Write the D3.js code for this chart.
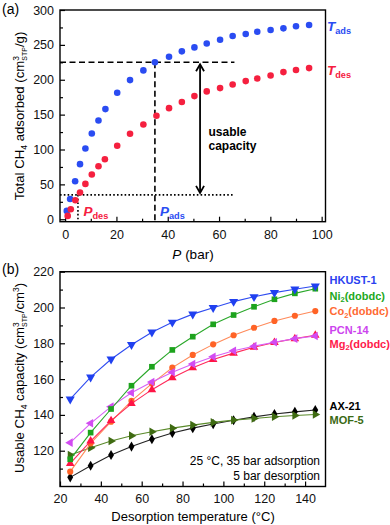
<!DOCTYPE html>
<html><head><meta charset="utf-8">
<script src="https://cdn.jsdelivr.net/npm/d3@7"></script>
<style>
body{margin:0;background:#fff;}
svg{font-family:"Liberation Sans",Arial,sans-serif;}
</style></head>
<body><svg id="c" width="390" height="525"></svg>
<script>
// ---------- Panel (a) data ----------
const adsPressure = [0.65,1.95,3.9,5.8,7.9,10.4,13,15.7,20.3,25.3,30.5,35,40.5,45.5,50.4,55.2,60.4,65.3,70.4,74.9,80.1,85.1,90,95.1];
const adsUptake   = [12,29,54.5,79,101.4,123,141.6,157.9,181.3,199.5,213.4,225,233,240.7,246.4,252,257.4,262.7,265.6,268.9,271.3,273.7,276.6,278.5];
const desPressure = [1.0,2.2,4.0,5.8,7.9,10.4,13,15.5,20.3,25.3,30.5,35.6,40.5,45.5,50.4,55.2,60.4,65.3,70.4,74.9,80.1,85.1,90,95.1];
const desUptake   = [4.8,14.4,27.3,38.3,50.7,64.1,76.1,86.1,105.3,122.5,135.9,148.3,159.3,168,176.6,183.3,188,193.3,198.1,201.9,206.2,211,213.9,216.7];
const aXTicks = [0,20,40,60,80,100];
const aYTicks = [0,50,100,150,200,250,300];
const pAds = 35, pDes = 5, qAds = 225, qDes = 35, arrowP = 52.6, guideEnd = 66;

// ---------- Panel (b) data ----------
const temps = [25,35,45,55,65,75,85,95,105,115,125,135,145];
const hkust = [148.8,161.1,171.1,179.2,186.2,191.7,196.3,199.9,203.3,206,208.3,210.2,212];
const ni2   = [115.2,130.1,143.3,156.3,166.9,176.3,183.7,190.6,195.8,200.4,204.6,207.9,210.5];
const co2   = [108.3,124.1,136.2,147.8,157.5,166.4,173.5,179.4,184.5,188.7,192.5,195.4,198.0];
const pcn14 = [124.5,135.3,144.6,152.4,158.4,163.8,168.4,172.5,175.8,178.4,180.6,182.6,184.1];
const mg2   = [112.9,125.4,136.8,146.3,154.1,160.8,166.4,171,174.5,177.8,180.4,182.6,184.5];
const ax21  = [105.1,111.6,117.6,122.3,126.4,129.9,132.6,134.9,137,138.9,140.5,141.7,142.7];
const mof5  = [117.6,121.7,125.4,128.4,130.6,132.6,134.3,135.8,137.1,138,139,139.7,140.2];
const bXTicks = [20,40,60,80,100,120,140];
const bYTicks = [120,140,160,180,200,220];
const seriesNames = ["AX-21","MOF-5","Co2(dobdc)","Mg2(dobdc)","PCN-14","Ni2(dobdc)","HKUST-1"];

const svg = d3.select("#c");
const L = 60, R = 325.5;

// ---------- helpers ----------
function frame(g, x0, y0, x1, y1){
  g.append("rect").attr("x",x0).attr("y",y0).attr("width",x1-x0).attr("height",y1-y0)
   .attr("fill","none").attr("stroke","#000").attr("stroke-width",1.4);
}
function axes(x, y, xt, yt, xMinor, yMinor, y0){
  svg.append("g").attr("transform",`translate(0,${y0})`)
    .call(d3.axisBottom(x).tickValues(xt).tickSize(-5).tickPadding(8).tickFormat(d3.format("d")));
  svg.append("g").attr("transform",`translate(0,${y0})`)
    .call(d3.axisBottom(x).tickValues(xMinor).tickSize(-3).tickFormat(""));
  svg.append("g").attr("transform",`translate(${L},0)`)
    .call(d3.axisLeft(y).tickValues(yt).tickSize(-5).tickPadding(6).tickFormat(d3.format("d")));
  svg.append("g").attr("transform",`translate(${L},0)`)
    .call(d3.axisLeft(y).tickValues(yMinor).tickSize(-3).tickFormat(""));
  svg.selectAll(".domain").remove();
  svg.selectAll(".tick line").attr("stroke","#000").attr("stroke-width",1.2);
  svg.selectAll(".tick text").attr("font-size",12.5).attr("fill","#111")
     .attr("font-family","Liberation Sans, Arial, sans-serif");
}

// ================= Panel (a) =================
const xa = d3.scaleLinear().domain([-2,101.5]).range([L,R]);
const ya = d3.scaleLinear().domain([-3.5,300]).range([221.7,10]);
axes(xa, ya, aXTicks, aYTicks, d3.range(10,100,20), d3.range(25,300,50), 221.7);

const blueA = "#2a4cf2", redA = "#f5203f";
const guides = svg.append("g").attr("stroke","#000").attr("stroke-width",1.6).attr("fill","none");
guides.append("line").attr("x1",L).attr("x2",xa(guideEnd)).attr("y1",ya(qAds)).attr("y2",ya(qAds)).attr("stroke-dasharray","6,3.5");
guides.append("line").attr("x1",xa(pAds)).attr("x2",xa(pAds)).attr("y1",ya(qAds)).attr("y2",221.7).attr("stroke-dasharray","6,3.5");
guides.append("line").attr("x1",L).attr("x2",xa(guideEnd)).attr("y1",ya(qDes)).attr("y2",ya(qDes)).attr("stroke-dasharray","1.6,2.2");
guides.append("line").attr("x1",xa(pDes)).attr("x2",xa(pDes)).attr("y1",ya(qDes)).attr("y2",221.7).attr("stroke-dasharray","1.6,2.2");
const ax = xa(arrowP), ayT = ya(qAds)+2, ayB = ya(qDes)-2;
guides.append("line").attr("x1",ax).attr("x2",ax).attr("y1",ayT).attr("y2",ayB).attr("stroke-width",1.8);
guides.append("path").attr("d",`M${ax-4},${ayT+7}L${ax},${ayT}L${ax+4},${ayT+7}`).attr("stroke-width",1.8);
guides.append("path").attr("d",`M${ax-4},${ayB-7}L${ax},${ayB}L${ax+4},${ayB-7}`).attr("stroke-width",1.8);

svg.append("g").selectAll("circle").data(adsPressure).join("circle")
  .attr("cx",(d)=>xa(d)).attr("cy",(d,i)=>ya(adsUptake[i])).attr("r",3.3).attr("fill",blueA);
svg.append("g").selectAll("circle").data(desPressure).join("circle")
  .attr("cx",(d)=>xa(d)).attr("cy",(d,i)=>ya(desUptake[i])).attr("r",3.3).attr("fill",redA);

frame(svg, L, 10, R, 221.7);

function subLabel(x, y, main, sub, color, size){
  const t = svg.append("text").attr("x",x).attr("y",y).attr("fill",color).attr("font-weight","bold").attr("font-size",size);
  t.append("tspan").attr("font-style","italic").text(main);
  t.append("tspan").attr("font-size",size*0.68).attr("dy",3).text(sub);
  return t;
}
subLabel(327, 31, "T", "ads", blueA, 13.5);
subLabel(327, 75, "T", "des", redA, 13.5);
subLabel(83.5, 215.5, "P", "des", redA, 13.5);
subLabel(160, 215.5, "P", "ads", blueA, 13.5);
svg.append("text").attr("x",208.5).attr("y",135.5).attr("font-weight","bold").attr("font-size",12).text("usable");
svg.append("text").attr("x",208.5).attr("y",150).attr("font-weight","bold").attr("font-size",12).text("capacity");

svg.append("text").attr("x",2).attr("y",14).attr("font-size",14).text("(a)");
const xta = svg.append("text").attr("x",193).attr("y",259).attr("text-anchor","middle").attr("font-size",13.5);
xta.append("tspan").attr("font-style","italic").text("P");
xta.append("tspan").text(" (bar)");

(function(){
  const t = svg.append("text").attr("transform",`translate(23.5,116) rotate(-90)`)
    .attr("text-anchor","middle").attr("font-size",13.2);
  t.append("tspan").text("Total CH");
  t.append("tspan").attr("font-size",8.5).attr("dy",3).text("4");
  t.append("tspan").attr("dy",-3).text(" adsorbed (cm");
  t.append("tspan").attr("font-size",8.5).attr("dy",-5).text("3");
  t.append("tspan").attr("font-size",7).attr("dx",-4.7).attr("dy",8.5).text("STP");
  t.append("tspan").attr("dy",-3.5).text("/g)");
})();

// ================= Panel (b) =================
const xb = d3.scaleLinear().domain([20,150]).range([L,R]);
const yb = d3.scaleLinear().domain([100,220]).range([486.5,271.7]);
axes(xb, yb, bXTicks, bYTicks, d3.range(30,150,20), d3.range(110,220,20), 486.5);

const seriesValues = [ax21, mof5, co2, mg2, pcn14, ni2, hkust];
const lineColors = ["#222222","#5a8a2a","#ff8a5a","#ff2a5a","#d860f5","#2aa82a","#2f4cf0"];
const markColors = ["#000000","#3f6b12","#ff6326","#ff1446","#d24cf2","#1da31d","#2040f0"];
const markTypes = [d3.symbolDiamond, d3.symbolTriangle, d3.symbolCircle, d3.symbolTriangle, d3.symbolTriangle, d3.symbolSquare, d3.symbolTriangle];
const markRot = [0, 90, 0, 0, -90, 0, 180];
const markSize = [30, 32, 30, 32, 32, 32, 36];

const lineGen = d3.line().x((d,i)=>xb(temps[i])).y(d=>yb(d));
seriesValues.forEach((vals, k)=>{
  const g = svg.append("g");
  g.append("path").datum(vals).attr("d",lineGen).attr("fill","none")
    .attr("stroke",lineColors[k]).attr("stroke-width",1.1);
  g.selectAll("path.m").data(vals).join("path").attr("class","m")
    .attr("transform",(d,i)=>`translate(${xb(temps[i])},${yb(d)}) rotate(${markRot[k]})`)
    .attr("d",d3.symbol().type(markTypes[k]).size(markSize[k])())
    .attr("fill",markColors[k]);
});

frame(svg, L, 271.7, R, 486.5);

const legend = [
  {n:"HKUST-1", y:284, c:"#2a3ff0"},
  {n:"Ni|2|(dobdc)", y:299.5, c:"#22a822"},
  {n:"Co|2|(dobdc)", y:315, c:"#ff6a33"},
  {n:"PCN-14", y:334, c:"#cc44ee"},
  {n:"Mg|2|(dobdc)", y:347.5, c:"#ff1a4a"},
  {n:"AX-21", y:410, c:"#000000"},
  {n:"MOF-5", y:424, c:"#3a6a14"}
];
legend.forEach(l=>{
  const parts = l.n.split("|");
  const t = svg.append("text").attr("x",329.5).attr("y",l.y).attr("fill",l.c)
    .attr("font-weight","bold").attr("font-size",11);
  t.append("tspan").text(parts[0]);
  if(parts.length>1){
    t.append("tspan").attr("font-size",7.5).attr("dy",2.5).text(parts[1]);
    t.append("tspan").attr("dy",-2.5).text(parts[2]);
  }
});

svg.append("text").attr("x",320).attr("y",465).attr("text-anchor","end").attr("font-size",12).text("25 °C, 35 bar adsorption");
svg.append("text").attr("x",320).attr("y",479.5).attr("text-anchor","end").attr("font-size",12).text("5 bar desorption");

svg.append("text").attr("x",2).attr("y",274).attr("font-size",14).text("(b)");
svg.append("text").attr("x",193).attr("y",521).attr("text-anchor","middle").attr("font-size",13).text("Desorption temperature (°C)");

(function(){
  const t = svg.append("text").attr("transform",`translate(23.5,378) rotate(-90)`)
    .attr("text-anchor","middle").attr("font-size",13.2);
  t.append("tspan").text("Usable CH");
  t.append("tspan").attr("font-size",8.5).attr("dy",3).text("4");
  t.append("tspan").attr("dy",-3).text(" capacity (cm");
  t.append("tspan").attr("font-size",8.5).attr("dy",-5).text("3");
  t.append("tspan").attr("font-size",7).attr("dx",-4.7).attr("dy",8.5).text("STP");
  t.append("tspan").attr("dy",-3.5).text("/cm");
  t.append("tspan").attr("font-size",8.5).attr("dy",-5).text("3");
  t.append("tspan").attr("dy",5).text(")");
})();
</script></body></html>
